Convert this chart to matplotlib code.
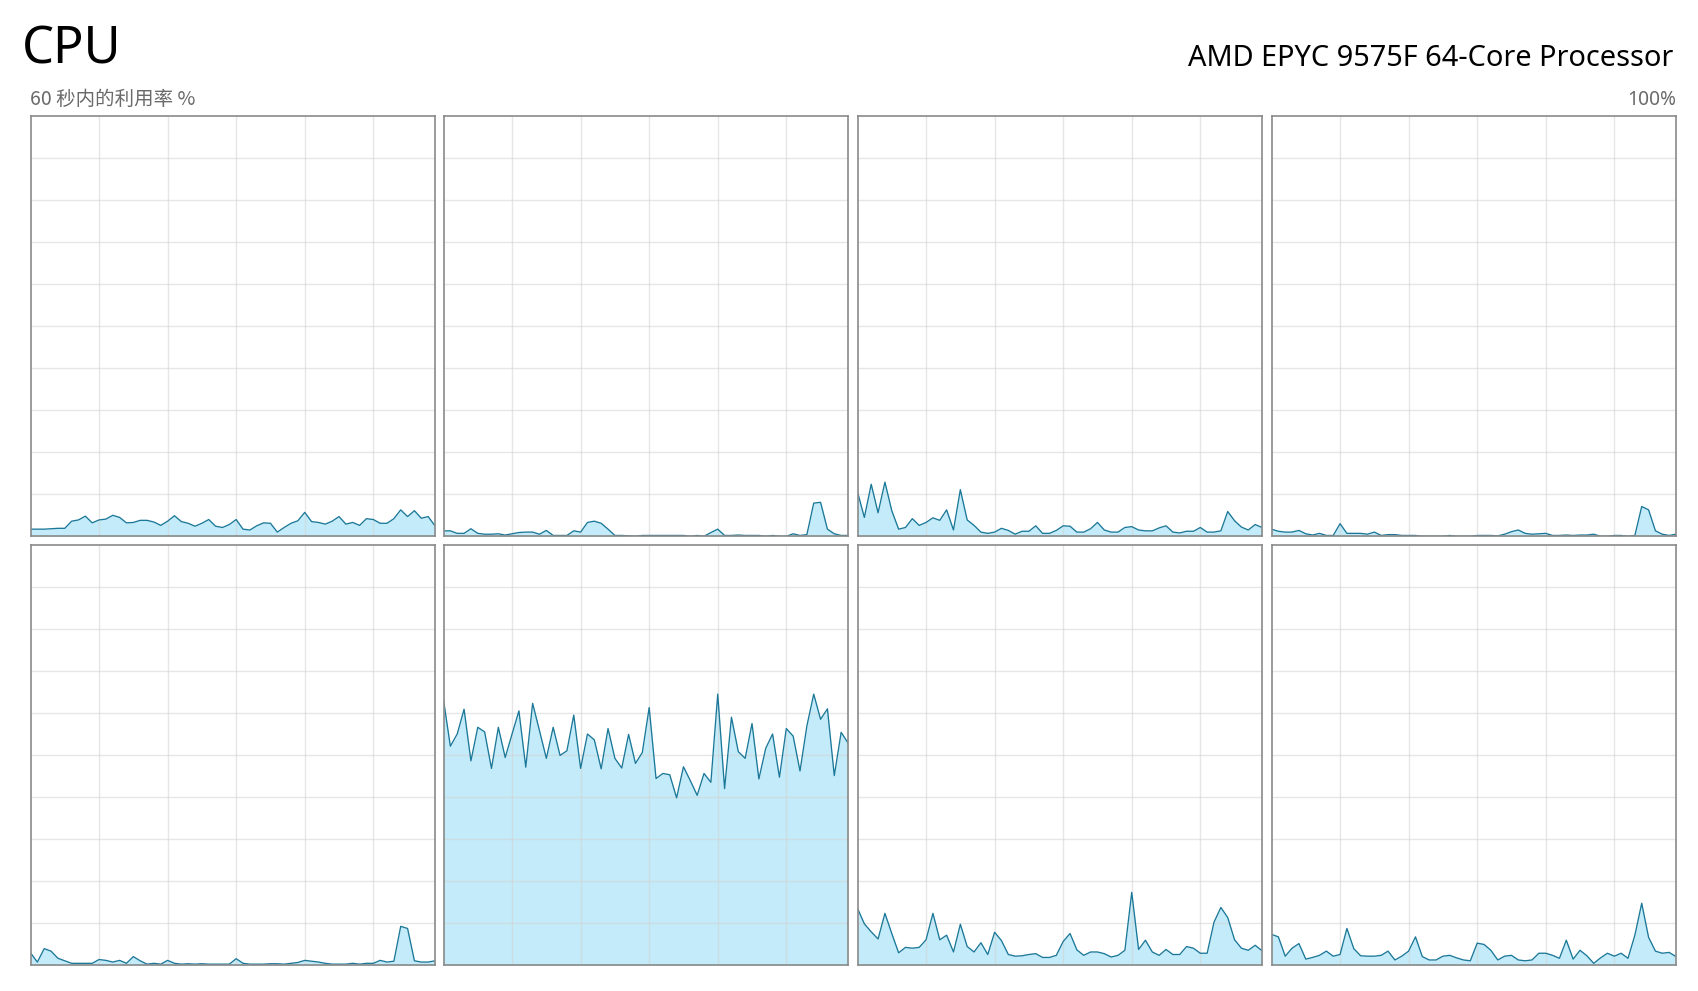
import matplotlib
matplotlib.use("Agg")
import matplotlib.pyplot as plt
import numpy as np

W, H = 1698, 991

title = "CPU"
processor = "AMD EPYC 9575F 64-Core Processor"
subtitle = "60 秒内的利用率 %"
max_label = "100%"

# 60 samples per logical processor (percent utilisation)
core0 = [1.7,1.7,1.7,1.8,1.9,1.9,3.6,3.9,4.8,3.2, 3.9,4.1,5.0,4.5,3.2,3.3,3.8,3.8,3.4,2.6,
         3.6,4.9,3.5,3.1,2.4,3.1,4.0,2.4,2.1,2.8, 4.0,1.7,1.5,2.5,3.2,3.1,1.0,2.1,3.1,3.7,
         5.7,3.5,3.3,2.9,3.6,4.7,2.9,3.3,2.6,4.2, 4.0,3.1,3.1,4.2,6.3,4.7,6.1,4.3,4.7,2.5]
core1 = [1.3,1.3,0.7,0.7,1.8,0.7,0.5,0.5,0.6,0.3, 0.6,0.9,1.0,1.0,0.5,1.4,0.2,0.2,0.2,1.3,
         1.0,3.3,3.6,3.1,1.7,0.2,0.2,0.1,0.0,0.2, 0.2,0.2,0.2,0.2,0.2,0.2,0.0,0.2,0.0,0.9,
         1.7,0.2,0.2,0.3,0.2,0.2,0.2,0.0,0.2,0.0, 0.0,0.6,0.2,0.4,7.9,8.1,1.7,0.6,0.2,0.2]
core2 = [10.6,4.5,12.4,5.6,12.9,6.1,1.7,2.1,4.2,2.6, 3.3,4.4,3.8,6.3,1.5,11.1,3.9,2.6,1.0,0.7,
         1.0,1.9,1.4,0.5,1.2,1.2,2.5,0.7,0.7,1.4, 2.5,2.4,1.0,1.0,1.8,3.3,1.5,1.0,1.0,2.1,
         2.3,1.5,1.3,1.3,2.0,2.5,1.0,0.8,1.2,1.2, 2.1,1.0,1.0,1.3,5.9,3.7,2.2,1.5,2.8,2.1]
core3 = [1.7,1.2,1.0,1.0,1.4,0.6,0.3,0.7,0.2,0.2, 3.0,0.7,0.7,0.7,0.5,1.0,0.2,0.4,0.4,0.2,
         0.2,0.2,0.0,0.0,0.0,0.0,0.2,0.0,0.0,0.0, 0.2,0.2,0.2,0.1,0.5,1.1,1.5,0.7,0.5,0.6,
         0.7,0.2,0.2,0.3,0.2,0.3,0.3,0.5,0.0,0.0, 0.2,0.2,0.0,0.2,7.1,6.3,1.3,0.5,0.2,0.5]
core4 = [2.9,0.7,3.9,3.3,1.6,1.0,0.4,0.4,0.4,0.4, 1.3,1.1,0.7,1.1,0.4,2.0,1.0,0.2,0.4,0.2,
         1.1,0.4,0.2,0.3,0.2,0.3,0.2,0.2,0.2,0.2, 1.5,0.4,0.2,0.2,0.2,0.3,0.3,0.2,0.4,0.6,
         1.1,0.9,0.7,0.4,0.2,0.2,0.2,0.4,0.2,0.4, 0.4,1.1,0.7,0.9,9.2,8.7,1.0,0.7,0.7,1.0]
core5 = [63.1,52.1,55.0,60.9,48.6,56.6,55.5,46.8,56.6,49.4, 55.0,60.5,47.1,62.3,55.8,49.2,56.6,49.9,51.0,59.5,
         46.8,55.0,53.6,46.7,56.3,49.2,46.9,54.9,48.0,50.6, 61.3,44.4,45.6,45.3,39.8,47.2,43.9,40.4,45.6,43.5,
         64.5,42.0,59.0,50.8,49.2,57.5,44.3,51.6,55.0,44.7, 56.3,54.5,46.2,56.9,64.5,58.5,61.0,45.1,55.4,52.9]
core6 = [13.5,9.8,7.9,6.2,12.3,7.5,2.9,4.2,4.0,4.2, 6.0,12.3,6.0,7.1,3.1,9.7,4.4,3.1,5.3,2.5,
         7.8,5.8,2.5,2.1,2.2,2.5,2.7,1.8,1.8,2.3, 5.6,7.5,3.6,2.3,3.1,3.1,2.7,1.9,2.3,3.5,
         17.3,3.7,5.9,3.1,2.3,3.7,2.5,2.5,4.4,4.0, 2.8,2.8,10.2,13.7,11.3,6.0,4.0,3.5,4.7,3.4]
core7 = [7.3,6.7,2.1,4.0,5.1,1.4,1.8,2.3,3.3,2.1, 2.5,8.7,3.9,2.2,2.1,2.1,2.3,3.3,1.2,2.1,
         3.3,6.7,2.0,1.2,1.2,2.1,2.3,1.7,1.2,1.0, 5.2,4.9,3.5,1.2,2.1,2.3,1.2,1.0,1.2,2.8,
         2.8,2.3,1.6,5.9,1.4,3.5,2.2,0.4,1.7,2.8, 2.1,2.8,1.6,7.1,14.7,6.6,3.3,2.8,3.0,2.0]

cores = [core0, core1, core2, core3, core4, core5, core6, core7]
x_grid = [10, 20, 30, 40, 50]
y_grid = [10, 20, 30, 40, 50, 60, 70, 80, 90]

line_color = "#1b7898"
fill_color = "#c3ebf9"
grid_color = "#d2d2d2"
border_color = "#8a8a8a"

fig = plt.figure(figsize=(W / 100, H / 100), dpi=100)
fig.patch.set_facecolor("white")

lefts = [30.5, 443.5, 857.5, 1271.5]
pw = 404.5
rows = [(116.5, 536.3), (545.0, 965.0)]

for i, vals in enumerate(cores):
    r, c = divmod(i, 4)
    top, bot = rows[r]
    ax = fig.add_axes([lefts[c] / W, 1 - bot / H, pw / W, (bot - top) / H])
    xs = np.arange(len(vals))
    ax.fill_between(xs, vals, 0, color=fill_color, lw=0, zorder=1)
    ax.plot(xs, vals, color=line_color, lw=0.95, zorder=3)
    ax.set_xlim(0, len(vals) - 1)
    ax.set_ylim(0, 100)
    ax.set_xticks(x_grid)
    ax.set_yticks(y_grid)
    ax.set_axisbelow(False)
    ax.grid(True, color=grid_color, lw=1.0, alpha=0.55)
    ax.tick_params(length=0, labelbottom=False, labelleft=False)
    for s in ax.spines.values():
        s.set_color(border_color)
        s.set_linewidth(1.2)
        s.set_zorder(4)

def ftext(x, y, s, **kw):
    fig.text(x / W, 1 - y / H, s, va="baseline", **kw)

ftext(22, 64, title, fontsize=36.5, family=["Noto Sans", "DejaVu Sans"], color="#000000")
ftext(1673, 66.5, processor, fontsize=20.8, ha="right",
      family=["Noto Sans", "DejaVu Sans"], color="#000000")
ftext(30, 105, subtitle, fontsize=14, family=["Noto Sans CJK SC", "DejaVu Sans"], color="#6a6a6a")
ftext(1676, 105, max_label, fontsize=13.8, ha="right",
      family=["Noto Sans", "DejaVu Sans"], color="#6a6a6a")

fig.savefig("out.png", dpi=100, facecolor="white")
